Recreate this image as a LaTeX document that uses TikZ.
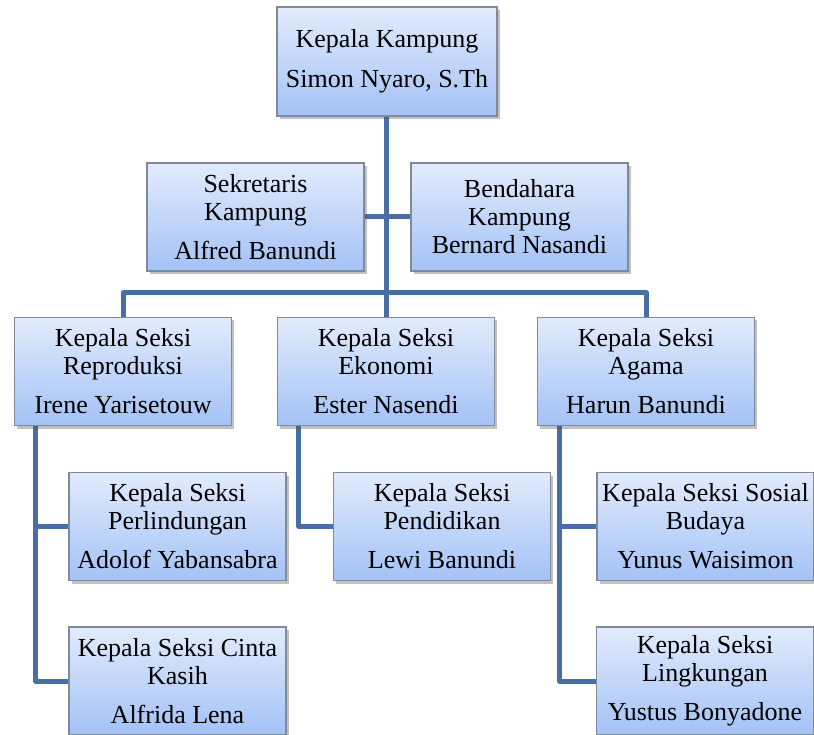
\documentclass[tikz,border=0pt]{standalone}
\usepackage{fontspec}
\setmainfont{Liberation Serif}
\usetikzlibrary{shadows}
\pgfdeclarelayer{background}
\pgfsetlayers{background,main}
\definecolor{linec}{RGB}{72,110,165}
\definecolor{boxtop}{RGB}{226,235,252}
\definecolor{boxbot}{RGB}{163,194,246}
\definecolor{boxline}{RGB}{128,138,152}
\tikzset{
  orgbox/.style={draw=boxline, line width=1.1pt, top color=boxtop, bottom color=boxbot,
    minimum width=217pt, minimum height=108pt, inner sep=0pt, align=center,
    font=\fontsize{26}{28}\selectfont,
    drop shadow={shadow xshift=2.5pt, shadow yshift=-3pt, opacity=0.35, fill=black!70}},
  conn/.style={draw=linec, line width=5pt, line join=round, line cap=butt}
}
\begin{document}
\begin{tikzpicture}[x=1pt,y=-1pt]
\useasboundingbox (0,0) rectangle (814,735);
\clip (0,0) rectangle (814,735);
\node[orgbox, minimum width=220pt, minimum height=109pt] (top) at (387,61.5) {Kepala Kampung\\[12pt]Simon Nyaro, S.Th};
\node[orgbox] (sek) at (255.5,217) {Sekretaris\\Kampung\\[11pt]Alfred Banundi};
\node[orgbox] (ben) at (519.5,217) {Bendahara\\Kampung\\Bernard Nasandi};
\node[orgbox] (rep) at (123,371.5) {Kepala Seksi\\Reproduksi\\[11pt]Irene Yarisetouw};
\node[orgbox] (eko) at (386,371.5) {Kepala Seksi\\Ekonomi\\[11pt]Ester Nasendi};
\node[orgbox] (aga) at (646,371.5) {Kepala Seksi\\Agama\\[11pt]Harun Banundi};
\node[orgbox] (perl) at (177.5,526.5) {Kepala Seksi\\Perlindungan\\[11pt]Adolof Yabansabra};
\node[orgbox] (pend) at (442,526.5) {Kepala Seksi\\Pendidikan\\[11pt]Lewi Banundi};
\node[orgbox] (sos) at (705.5,526.5) {Kepala Seksi Sosial\\Budaya\\[11pt]Yunus Waisimon};
\node[orgbox] (cinta) at (177.5,681) {Kepala Seksi Cinta\\Kasih\\[11pt]Alfrida Lena};
\node[orgbox] (ling) at (705,681) {Kepala Seksi\\Lingkungan\\[11pt]Yustus Bonyadone};
\coordinate (bus) at (386,293);
\begin{pgfonlayer}{background}
\draw[conn] (top.south -| eko.north) -- (eko.north);
\draw[conn] (sek.east) -- (ben.west);
\draw[conn] (rep.north) -- (rep.north |- bus) -- (aga.north |- bus) -- (aga.north);
\draw[conn] ([xshift=22pt]rep.south west) |- (perl.west);
\draw[conn] ([xshift=22pt]rep.south west) |- (cinta.west);
\draw[conn] ([xshift=22pt]eko.south west) |- (pend.west);
\draw[conn] ([xshift=23pt]aga.south west) |- (sos.west);
\draw[conn] ([xshift=23pt]aga.south west) |- (ling.west);
\end{pgfonlayer}
\end{tikzpicture}
\end{document}
